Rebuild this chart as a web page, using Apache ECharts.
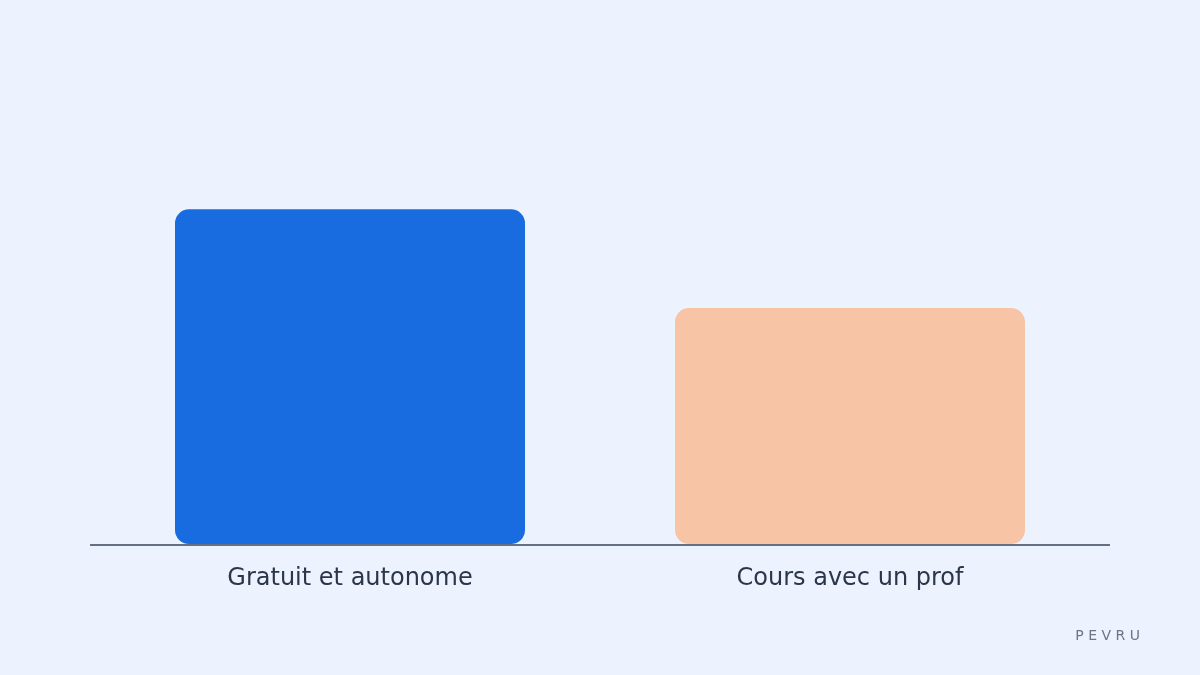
<!DOCTYPE html>
<html>
<head>
<meta charset="utf-8">
<script src="https://cdn.jsdelivr.net/npm/echarts@6/dist/echarts.min.js"></script>
<style>
  html, body { margin: 0; padding: 0; background: #EDF3FE; }
  #main { width: 1200px; height: 675px; }
</style>
</head>
<body>
<div id="main"></div>
<script>
var categories = ['Gratuit et autonome', 'Cours avec un prof'];
var values = [100, 70.5];
var barColors = ['#186CE0', '#F7C4A6'];

var chart = echarts.init(document.getElementById('main'));

var option = {
    backgroundColor: '#EDF3FE',
    animation: false,
    grid: { left: 100, right: 100, top: 42, bottom: 131 },
    xAxis: {
        type: 'category',
        data: categories,
        axisLine: { show: false },
        axisTick: { show: false },
        axisLabel: {
            margin: 23,
            fontSize: 24,
            color: '#2B3649',
            fontFamily: 'DejaVu Sans'
        }
    },
    yAxis: {
        type: 'value',
        min: 0,
        max: 150,
        show: false,
        splitLine: { show: false }
    },
    series: [{
        type: 'bar',
        barWidth: 350,
        data: values.map(function (v, i) {
            return { value: v, itemStyle: { color: barColors[i] } };
        }),
        itemStyle: { borderRadius: 14 }
    }],
    graphic: [
        {
            type: 'line',
            shape: { x1: 90, y1: 545, x2: 1110, y2: 545 },
            style: { stroke: '#667085', lineWidth: 2 },
            z: 10
        },
        {
            type: 'text',
            right: 60,
            top: 629,
            style: {
                text: 'P E V R U',
                font: '14px DejaVu Sans',
                fill: '#6B7587'
            }
        }
    ]
};

chart.setOption(option);
</script>
</body>
</html>
